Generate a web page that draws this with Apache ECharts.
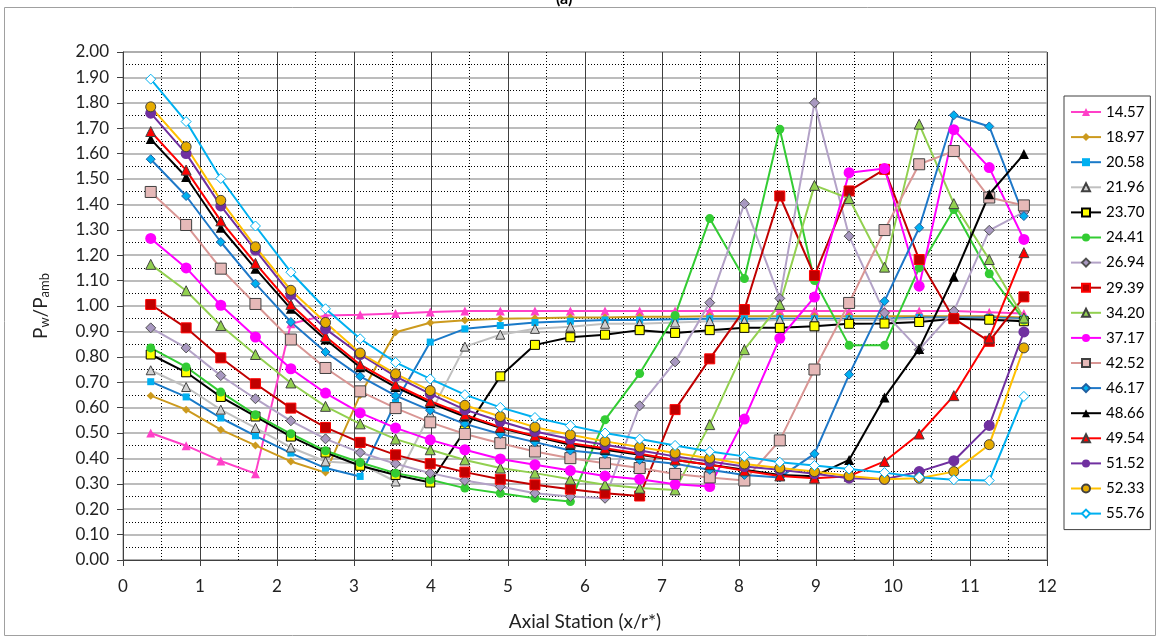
<!DOCTYPE html>
<html>
<head>
<meta charset="utf-8">
<script src="https://cdn.jsdelivr.net/npm/echarts@6.0.0/dist/echarts.min.js"></script>
<style>
  html, body { margin: 0; padding: 0; background: #fff; }
  #chart { width: 1161px; height: 639px; }
</style>
</head>
<body>
<div id="chart"></div>
<script>
// axial stations (x/r*)
const stations = [0.36, 0.82, 1.27, 1.72, 2.18, 2.63, 3.08, 3.54, 3.99, 4.44, 4.90, 5.35, 5.81,
  6.26, 6.71, 7.17, 7.62, 8.07, 8.53, 8.98, 9.43, 9.89, 10.34, 10.79, 11.25, 11.70];

const npr = ["14.57", "18.97", "20.58", "21.96", "23.70", "24.41", "26.94", "29.39", "34.20",
  "37.17", "42.52", "46.17", "48.66", "49.54", "51.52", "52.33", "55.76"];

// Pw/Pamb per NPR
const p1457 = [0.50, 0.45, 0.39, 0.34, 0.93, 0.963, 0.966, 0.97, 0.976, 0.98, 0.98, 0.98, 0.98, 0.98, 0.98, 0.98, 0.98, 0.98, 0.98, 0.98, 0.98, 0.98, 0.98, 0.98, 0.975, 0.97];
const p1897 = [0.647, 0.592, 0.513, 0.451, 0.388, 0.344, 0.65, 0.897, 0.934, 0.944, 0.95, 0.952, 0.955, 0.955, 0.958, 0.958, 0.96, 0.96, 0.96, 0.96, 0.96, 0.96, 0.96, 0.96, 0.96, 0.955];
const p2058 = [0.702, 0.642, 0.559, 0.489, 0.421, 0.362, 0.329, 0.62, 0.858, 0.91, 0.923, 0.935, 0.94, 0.945, 0.945, 0.948, 0.95, 0.95, 0.95, 0.95, 0.95, 0.95, 0.955, 0.955, 0.955, 0.95];
const p2196 = [0.747, 0.681, 0.592, 0.52, 0.443, 0.388, 0.379, 0.309, 0.576, 0.84, 0.887, 0.91, 0.918, 0.93, 0.93, 0.935, 0.94, 0.94, 0.945, 0.945, 0.945, 0.945, 0.95, 0.95, 0.95, 0.945];
const p2370 = [0.809, 0.739, 0.642, 0.565, 0.486, 0.423, 0.371, 0.335, 0.305, 0.51, 0.723, 0.847, 0.877, 0.887, 0.905, 0.894, 0.905, 0.914, 0.914, 0.92, 0.93, 0.931, 0.937, 0.95, 0.946, 0.94];
const p2441 = [0.835, 0.76, 0.661, 0.572, 0.497, 0.43, 0.384, 0.342, 0.316, 0.283, 0.263, 0.243, 0.23, 0.552, 0.734, 0.963, 1.344, 1.108, 1.696, 1.10, 0.845, 0.845, 1.15, 1.38, 1.127, 0.945];
const p2694 = [0.914, 0.835, 0.726, 0.635, 0.548, 0.477, 0.423, 0.379, 0.342, 0.313, 0.289, 0.263, 0.25, 0.243, 0.607, 0.78, 1.013, 1.403, 1.03, 1.80, 1.275, 0.973, 0.828, 0.98, 1.298, 1.37];
const p2939 = [1.006, 0.914, 0.796, 0.694, 0.598, 0.522, 0.463, 0.414, 0.379, 0.346, 0.318, 0.296, 0.279, 0.263, 0.252, 0.592, 0.792, 0.986, 1.433, 1.12, 1.453, 1.538, 1.183, 0.95, 0.861, 1.036];
const p3420 = [1.164, 1.06, 0.923, 0.809, 0.697, 0.605, 0.536, 0.476, 0.434, 0.394, 0.362, 0.342, 0.318, 0.296, 0.283, 0.276, 0.533, 0.828, 1.006, 1.475, 1.423, 1.153, 1.716, 1.403, 1.183, 0.953];
const p3717 = [1.266, 1.15, 1.003, 0.878, 0.753, 0.657, 0.579, 0.52, 0.473, 0.434, 0.398, 0.375, 0.352, 0.331, 0.318, 0.298, 0.289, 0.555, 0.873, 1.035, 1.525, 1.541, 1.078, 1.694, 1.545, 1.262];
const p4252 = [1.449, 1.319, 1.147, 1.008, 0.868, 0.756, 0.664, 0.598, 0.542, 0.496, 0.46, 0.427, 0.401, 0.381, 0.362, 0.339, 0.325, 0.313, 0.471, 0.75, 1.012, 1.299, 1.558, 1.61, 1.427, 1.396];
const p4617 = [1.578, 1.433, 1.252, 1.088, 0.937, 0.819, 0.723, 0.647, 0.589, 0.536, 0.496, 0.464, 0.431, 0.417, 0.394, 0.379, 0.355, 0.335, 0.325, 0.418, 0.73, 1.019, 1.308, 1.751, 1.707, 1.354];
const p4866 = [1.657, 1.508, 1.308, 1.147, 0.989, 0.868, 0.759, 0.681, 0.618, 0.565, 0.52, 0.486, 0.454, 0.434, 0.414, 0.394, 0.375, 0.355, 0.335, 0.33, 0.394, 0.64, 0.831, 1.115, 1.44, 1.598];
const p4954 = [1.687, 1.535, 1.335, 1.168, 1.006, 0.88, 0.769, 0.69, 0.625, 0.572, 0.523, 0.489, 0.46, 0.44, 0.418, 0.394, 0.375, 0.351, 0.331, 0.322, 0.33, 0.388, 0.496, 0.647, 0.874, 1.21];
const p5152 = [1.759, 1.60, 1.394, 1.22, 1.045, 0.91, 0.809, 0.723, 0.654, 0.592, 0.546, 0.506, 0.476, 0.454, 0.431, 0.408, 0.388, 0.368, 0.355, 0.34, 0.322, 0.318, 0.348, 0.391, 0.53, 0.898];
const p5233 = [1.784, 1.627, 1.416, 1.233, 1.062, 0.935, 0.815, 0.733, 0.667, 0.609, 0.565, 0.523, 0.493, 0.467, 0.445, 0.421, 0.401, 0.378, 0.362, 0.348, 0.331, 0.318, 0.322, 0.348, 0.454, 0.835];
const p5576 = [1.893, 1.726, 1.502, 1.315, 1.133, 0.989, 0.871, 0.778, 0.713, 0.651, 0.601, 0.561, 0.529, 0.50, 0.476, 0.451, 0.427, 0.408, 0.385, 0.372, 0.358, 0.344, 0.326, 0.316, 0.313, 0.644];

const values = [p1457, p1897, p2058, p2196, p2370, p2441, p2694, p2939, p3420,
  p3717, p4252, p4617, p4866, p4954, p5152, p5233, p5576];

// line colour, marker, marker fill, marker border, marker size
const styles = [
  ["#FF40C8", "triangle", "#FF40C8", null, 9],
  ["#CC9A1E", "diamond", "#CC9A1E", null, 8],
  ["#1A7AC8", "rect", "#00B0F0", null, 7],
  ["#C0C0C0", "triangle", "#D0D0D0", "#404040", 9],
  ["#000000", "rect", "#FFFF00", "#000000", 9],
  ["#33CC33", "circle", "#33CC33", null, 9],
  ["#B3A2C7", "diamond", "#A898C0", "#505050", 10],
  ["#C00000", "rect", "#C00000", "#FF0000", 10],
  ["#92D050", "triangle", "#92D050", "#404040", 10],
  ["#FF00FF", "circle", "#FF00FF", null, 11],
  ["#D99694", "rect", "#E6B9B8", "#404040", 11],
  ["#1F78C8", "diamond", "#00B0F0", "#1F5FA0", 9],
  ["#000000", "triangle", "#000000", null, 10],
  ["#FF0000", "triangle", "#FF0000", "#404040", 10],
  ["#7030A0", "circle", "#7030A0", null, 11],
  ["#FFC000", "circle", "#E6AC00", "#404040", 10],
  ["#00B0F0", "diamond", "#FFFFFF", "#00B0F0", 10]
];

const font = "Lato, 'Open Sans', sans-serif";

const series = npr.map((name, k) => {
  const s = styles[k];
  return {
    name: name,
    type: "line",
    data: stations.map((x, i) => [x, values[k][i]]),
    lineStyle: { color: s[0], width: 2 },
    itemStyle: { color: s[2], borderColor: s[3] || s[2], borderWidth: s[3] ? 1 : 0 },
    symbol: s[1],
    symbolSize: s[4],
    showAllSymbol: true,
    emphasis: { disabled: true }
  };
});

const chart = echarts.init(document.getElementById("chart"));
chart.setOption({
  animation: false,
  textStyle: { fontFamily: font },
  grid: { left: 123, right: 114, top: 52, bottom: 79, show: true, borderColor: "#909090", borderWidth: 1 },
  legend: {
    orient: "vertical",
    left: 1064,
    top: 96,
    padding: [8, 6, 8, 6],
    itemGap: 9.1,
    itemWidth: 30,
    itemHeight: 10,
    borderColor: "#404040",
    borderWidth: 1,
    textStyle: { fontFamily: font, fontSize: 15, color: "#000", lineHeight: 16 },
    data: npr
  },
  xAxis: {
    type: "value",
    min: 0,
    max: 12,
    interval: 1,
    name: "Axial Station (x/r*)",
    nameLocation: "middle",
    nameGap: 52,
    nameTextStyle: { fontFamily: font, fontSize: 19, color: "#222" },
    axisLine: { lineStyle: { color: "#404040" } },
    axisTick: { show: true, length: 6, lineStyle: { color: "#404040" } },
    axisLabel: { fontFamily: font, fontSize: 17, color: "#222", margin: 18 },
    splitLine: { lineStyle: { color: "#404040", width: 1 } },
    minorTick: { show: false, splitNumber: 2 },
    minorSplitLine: { show: true, lineStyle: { color: "#000", type: [1, 2], width: 1 } }
  },
  yAxis: {
    type: "value",
    min: 0,
    max: 2,
    interval: 0.1,
    name: "{p|P}{s|w}{p|/P}{s|amb}",
    nameLocation: "middle",
    nameRotate: 90,
    nameGap: 72,
    nameTextStyle: {
      rich: {
        p: { fontFamily: font, fontSize: 19, color: "#222" },
        s: { fontFamily: font, fontSize: 13, color: "#222", verticalAlign: "bottom", padding: [8, 0, 0, 0] }
      }
    },
    axisLine: { show: true, lineStyle: { color: "#404040" } },
    axisTick: { show: true, length: 6, lineStyle: { color: "#404040" } },
    axisLabel: { fontFamily: font, fontSize: 17, color: "#222", margin: 14, formatter: v => v.toFixed(2) },
    splitLine: { lineStyle: { color: "#A6A6A6", width: 1.5 } },
    minorTick: { show: false, splitNumber: 2 },
    minorSplitLine: { show: true, lineStyle: { color: "#000", type: [1, 2], width: 1 } }
  },
  graphic: [
    { type: "rect", shape: { x: 4.5, y: 7.5, width: 1151, height: 628 }, style: { fill: "none", stroke: "#A0A0A0", lineWidth: 1 }, silent: true },
    { type: "text", x: 556, y: -9, style: { text: "(a)", font: "bold 16px " + font, fill: "#000" }, silent: true }
  ],
  series: series
});
</script>
</body>
</html>
